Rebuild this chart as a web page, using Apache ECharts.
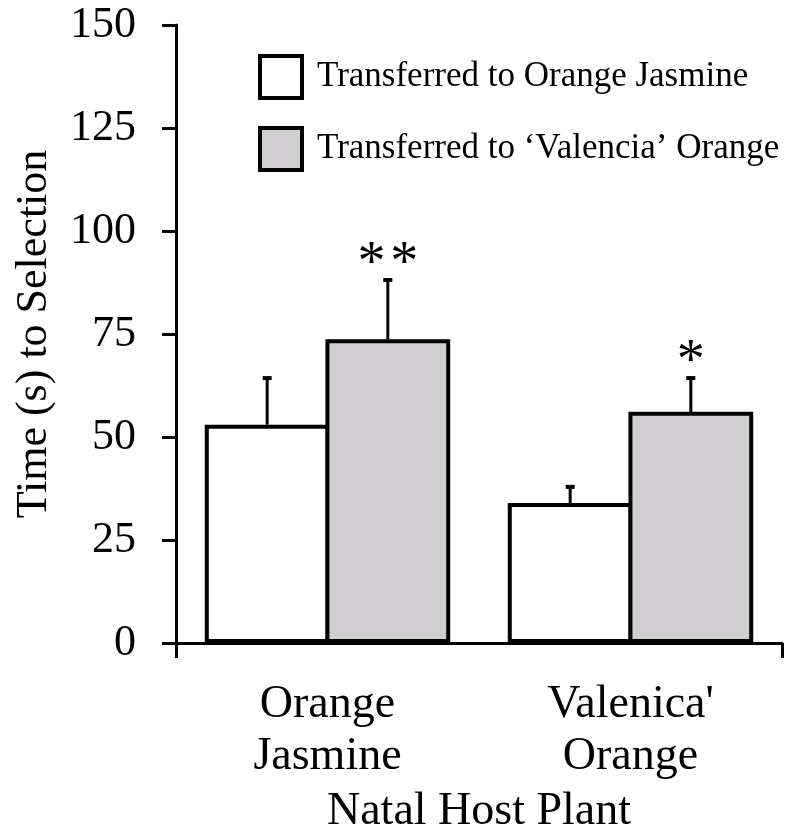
<!DOCTYPE html>
<html>
<head>
<meta charset="utf-8">
<script src="https://cdn.jsdelivr.net/npm/echarts@6/dist/echarts.min.js"></script>
<style>
  html, body { margin: 0; padding: 0; background: #fff; }
  #chart { width: 786px; height: 837px; }
</style>
</head>
<body>
<div id="chart"></div>
<script>
// Natal host plant groups on the x axis
const categories = ['Orange\nJasmine', "Valenica'\nOrange"];
const seriesNames = ['Transferred to Orange Jasmine', 'Transferred to \u2018Valencia\u2019 Orange'];

// Mean time (s) to selection and standard error, per group
const jasmineMeans = [53.0, 34.0];
const jasmineErr = [11.3, 3.9];
const valenciaMeans = [73.7, 56.1];
const valenciaErr = [14.4, 8.2];

// Significance markers above each 'Valencia' bar
const sigMarks = ['**', '*'];

// Y axis scale
const yMin = 0, yMax = 150, yStep = 25;

const FONT = '"Liberation Serif", "Times New Roman", serif';
const CAT_GAP = 0.19;
const BAR_GAP = -0.033; // neighbouring bars share one outline

function errorSeries(means, errs, side, marks) {
  return {
    type: 'custom',
    xAxisIndex: 0,
    z: 10,
    silent: true,
    data: means.map((m, i) => [i, m, m + errs[i], marks ? marks[i] : '']),
    renderItem: function (params, api) {
      const i = api.value(0);
      const base = api.coord([i, api.value(1)]);
      const top = api.coord([i, api.value(2)]);
      const band = api.size([1, 0])[0];
      const bw = band * (1 - CAT_GAP) / (2 + BAR_GAP);
      const x = base[0] + side * (bw / 2 + BAR_GAP * bw / 2);
      const children = [
        { type: 'line', shape: { x1: x, y1: base[1], x2: x, y2: top[1] },
          style: { stroke: '#000', lineWidth: 3 } },
        { type: 'rect', shape: { x: x - 4.5, y: top[1] - 2, width: 9, height: 4 },
          style: { fill: '#000' } }
      ];
      const mark = api.value(3);
      if (mark) {
        children.push({
          type: 'text',
          style: {
            text: mark.split('').join('\u200A'),
            x: x, y: top[1] - 15,
            align: 'center', verticalAlign: 'middle',
            font: '56px ' + FONT, fill: '#000'
          }
        });
      }
      return { type: 'group', children: children };
    }
  };
}

const chart = echarts.init(document.getElementById('chart'), null, { renderer: 'canvas' });
chart.setOption({
  animation: false,
  backgroundColor: '#fff',
  grid: { left: 176, right: 4, top: 25, bottom: 194, containLabel: false, outerBoundsMode: 'none' },
  legend: {
    orient: 'vertical',
    left: 253,
    top: 49,
    itemWidth: 42,
    itemHeight: 42,
    itemGap: 26,
    icon: 'rect',
    itemStyle: { borderColor: '#000', borderWidth: 4 },
    textStyle: { fontFamily: FONT, fontSize: 35, color: '#000', padding: [0, 0, 0, 10] },
    data: seriesNames
  },
  xAxis: [
    {
      type: 'category',
      data: categories,
      position: 'bottom',
      axisLine: { show: true, lineStyle: { color: '#000', width: 3 } },
      axisTick: { show: false },
      axisLabel: { fontFamily: FONT, fontSize: 46, color: '#000', lineHeight: 52, margin: 36, interval: 0 },
      name: 'Natal Host Plant',
      nameLocation: 'middle',
      nameGap: 146,
      nameTextStyle: { fontFamily: FONT, fontSize: 46, color: '#000' }
    },
    {
      // end ticks of the x axis
      type: 'value',
      min: 0, max: 1, interval: 1,
      position: 'bottom',
      axisLine: { show: false },
      axisTick: { show: true, inside: false, length: 15, lineStyle: { color: '#000', width: 3 } },
      axisLabel: { show: false },
      splitLine: { show: false }
    }
  ],
  yAxis: {
    type: 'value',
    min: yMin, max: yMax, interval: yStep,
    axisLine: { show: true, lineStyle: { color: '#000', width: 3 } },
    axisTick: { show: true, inside: false, length: 14, lineStyle: { color: '#000', width: 3 } },
    axisLabel: { fontFamily: FONT, fontSize: 44, color: '#000', margin: 40 },
    splitLine: { show: false },
    name: 'Time (s) to Selection',
    nameLocation: 'middle',
    nameGap: 120,
    nameTextStyle: { fontFamily: FONT, fontSize: 44, color: '#000' }
  },
  series: [
    {
      name: seriesNames[0],
      type: 'bar',
      xAxisIndex: 0,
      data: jasmineMeans,
      barGap: (BAR_GAP * 100) + '%',
      barCategoryGap: (CAT_GAP * 100) + '%',
      itemStyle: { color: '#ffffff', borderColor: '#000', borderWidth: 4 }
    },
    {
      name: seriesNames[1],
      type: 'bar',
      xAxisIndex: 0,
      data: valenciaMeans,
      barGap: (BAR_GAP * 100) + '%',
      barCategoryGap: (CAT_GAP * 100) + '%',
      itemStyle: { color: '#d0ced0', borderColor: '#000', borderWidth: 4 }
    },
    errorSeries(jasmineMeans, jasmineErr, -1, null),
    errorSeries(valenciaMeans, valenciaErr, 1, sigMarks)
  ]
});
</script>
</body>
</html>
